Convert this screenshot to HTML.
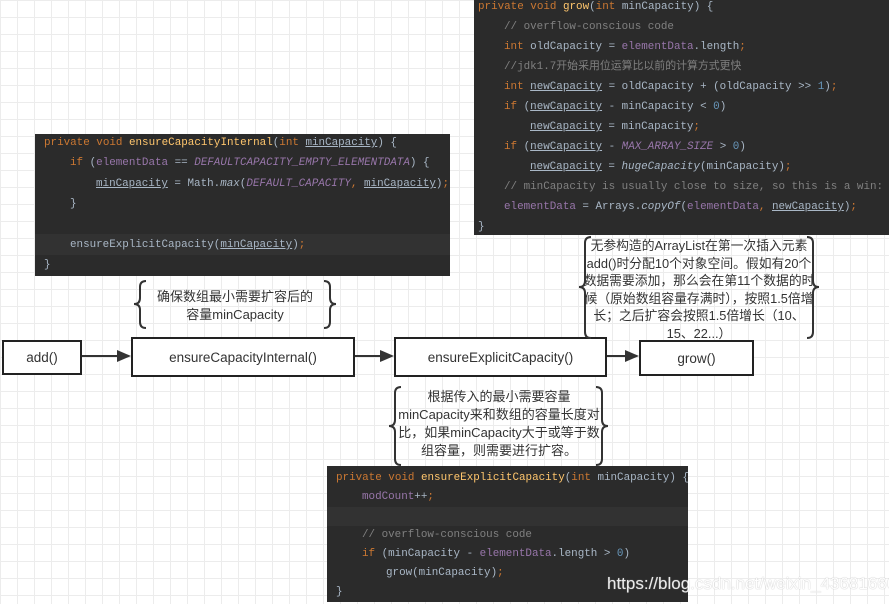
<!DOCTYPE html>
<html><head><meta charset="utf-8"><style>
body{margin:0;width:889px;height:604px;overflow:hidden;position:relative;background:#fff;
background-image:linear-gradient(#ececec 1px,transparent 1px),linear-gradient(90deg,#ececec 1px,transparent 1px);background-size:17px 17px;
font-family:"Liberation Sans","Noto Sans CJK SC",sans-serif;}
.code{position:absolute;background:#2b2b2b;font-family:"Liberation Mono","Noto Sans CJK SC",monospace;font-size:10.9px;color:#a9b7c6;white-space:pre;}
.code div{position:absolute;left:0;right:0;height:20px;line-height:20px;}
.k{color:#cc7832}.p{color:#9876aa}.c{color:#808080}.n{color:#6897bb}.i{font-style:italic}.u{text-decoration:underline}
.f{color:#ffc66d}
.box{position:absolute;border:2px solid #222;background:#fff;box-sizing:border-box;display:flex;align-items:center;justify-content:center;font-size:13.5px;color:#333}
.note{position:absolute;text-align:center;font-size:13px;color:#333;line-height:18px}
</style></head><body>

<div class="code" style="left:474px;top:0;width:415px;height:235px">
<div style="top:-3px;padding-left:4px"><span class="k">private void </span><span class="f">grow</span>(<span class="k">int </span>minCapacity) {</div>
<div style="top:17px;padding-left:30px"><span class="c">// overflow-conscious code</span></div>
<div style="top:37px;padding-left:30px"><span class="k">int </span>oldCapacity = <span class="p">elementData</span>.length<span class="k">;</span></div>
<div style="top:57px;padding-left:30px"><span class="c">//jdk1.7开始采用位运算比以前的计算方式更快</span></div>
<div style="top:77px;padding-left:30px"><span class="k">int </span><span class="u">newCapacity</span> = oldCapacity + (oldCapacity &gt;&gt; <span class="n">1</span>)<span class="k">;</span></div>
<div style="top:97px;padding-left:30px"><span class="k">if </span>(<span class="u">newCapacity</span> - minCapacity &lt; <span class="n">0</span>)</div>
<div style="top:117px;padding-left:56px"><span class="u">newCapacity</span> = minCapacity<span class="k">;</span></div>
<div style="top:137px;padding-left:30px"><span class="k">if </span>(<span class="u">newCapacity</span> - <span class="p i">MAX_ARRAY_SIZE</span> &gt; <span class="n">0</span>)</div>
<div style="top:157px;padding-left:56px"><span class="u">newCapacity</span> = <span class="i">hugeCapacity</span>(minCapacity)<span class="k">;</span></div>
<div style="top:177px;padding-left:30px"><span class="c">// minCapacity is usually close to size, so this is a win:</span></div>
<div style="top:197px;padding-left:30px"><span class="p">elementData</span> = Arrays.<span class="i">copyOf</span>(<span class="p">elementData</span><span class="k">, </span><span class="u">newCapacity</span>)<span class="k">;</span></div>
<div style="top:217px;padding-left:4px">}</div>
</div>

<div class="code" style="left:35px;top:134px;width:415px;height:142px">
<div style="top:100px;height:21px;background:#323232"></div>
<div style="top:-1px;padding-left:9px"><span class="k">private void </span><span class="f">ensureCapacityInternal</span>(<span class="k">int </span><span class="u">minCapacity</span>) {</div>
<div style="top:19px;padding-left:35px"><span class="k">if </span>(<span class="p">elementData</span> == <span class="p i">DEFAULTCAPACITY_EMPTY_ELEMENTDATA</span>) {</div>
<div style="top:40px;padding-left:61px"><span class="u">minCapacity</span> = Math.<span class="i">max</span>(<span class="p i">DEFAULT_CAPACITY</span><span class="k">, </span><span class="u">minCapacity</span>)<span class="k">;</span></div>
<div style="top:60px;padding-left:35px">}</div>
<div style="top:101px;padding-left:35px">ensureExplicitCapacity(<span class="u">minCapacity</span>)<span class="k">;</span></div>
<div style="top:121px;padding-left:9px">}</div>
</div>

<div class="code" style="left:327px;top:466px;width:361px;height:136px">
<div style="top:41px;height:19px;background:#323232"></div>
<div style="top:2px;padding-left:9px"><span class="k">private void </span><span class="f">ensureExplicitCapacity</span>(<span class="k">int </span>minCapacity) {</div>
<div style="top:21px;padding-left:35px"><span class="p">modCount</span>++<span class="k">;</span></div>
<div style="top:59px;padding-left:35px"><span class="c">// overflow-conscious code</span></div>
<div style="top:78px;padding-left:35px"><span class="k">if </span>(minCapacity - <span class="p">elementData</span>.length &gt; <span class="n">0</span>)</div>
<div style="top:97px;padding-left:59px">grow(minCapacity)<span class="k">;</span></div>
<div style="top:116px;padding-left:9px">}</div>
</div>

<div class="box" style="left:2px;top:340px;width:80px;height:35px">add()</div>
<div class="box" style="left:131px;top:337px;width:224px;height:40px">ensureCapacityInternal()</div>
<div class="box" style="left:394px;top:337px;width:213px;height:40px">ensureExplicitCapacity()</div>
<div class="box" style="left:639px;top:340px;width:115px;height:36px">grow()</div>

<svg width="889" height="604" style="position:absolute;left:0;top:0" fill="none" stroke="#333" stroke-width="2">
<line x1="82" y1="356" x2="120" y2="356"/><polygon points="131,356 117,350 117,362" fill="#333" stroke="none"/>
<line x1="355" y1="356" x2="383" y2="356"/><polygon points="394,356 380,350 380,362" fill="#333" stroke="none"/>
<line x1="607" y1="356" x2="628" y2="356"/><polygon points="639,356 625,350 625,362" fill="#333" stroke="none"/>
<path d="M146 281 Q140 281 140 287 L140 298 Q140 304 134 304 Q140 304 140 310 L140 322 Q140 328 146 328"/>
<path d="M324 281 Q330 281 330 287 L330 298 Q330 304 336 304 Q330 304 330 310 L330 322 Q330 328 324 328"/>
<path d="M591 237 Q585 237 585 243 L585 281 Q585 287 579 287 Q585 287 585 293 L585 332 Q585 338 591 338"/>
<path d="M807 237 Q813 237 813 243 L813 281 Q813 287 819 287 Q813 287 813 293 L813 332 Q813 338 807 338"/>
<path d="M401 387 Q395 387 395 393 L395 420 Q395 426 389 426 Q395 426 395 432 L395 459 Q395 465 401 465"/>
<path d="M596 387 Q602 387 602 393 L602 420 Q602 426 608 426 Q602 426 602 432 L602 459 Q602 465 596 465"/>
</svg>

<div class="note" style="left:140px;top:288px;width:190px">确保数组最小需要扩容后的<br>容量minCapacity</div>
<div class="note" style="left:583px;top:237px;width:232px;line-height:17.5px;font-size:12.8px">无参构造的ArrayList在第一次插入元素add()时分配10个对象空间。假如有20个数据需要添加，那么会在第11个数据的时候（原始数组容量存满时），按照1.5倍增长；之后扩容会按照1.5倍增长（10、15、22...）</div>
<div class="note" style="left:393px;top:388px;width:212px">根据传入的最小需要容量minCapacity来和数组的容量长度对比，如果minCapacity大于或等于数组容量，则需要进行扩容。</div>

<div style="position:absolute;left:607px;top:574px;font-size:17px;color:#fff;text-shadow:0 0 1px #999;opacity:.9">https://blog.csdn.net/weixin_43681666</div>
</body></html>
